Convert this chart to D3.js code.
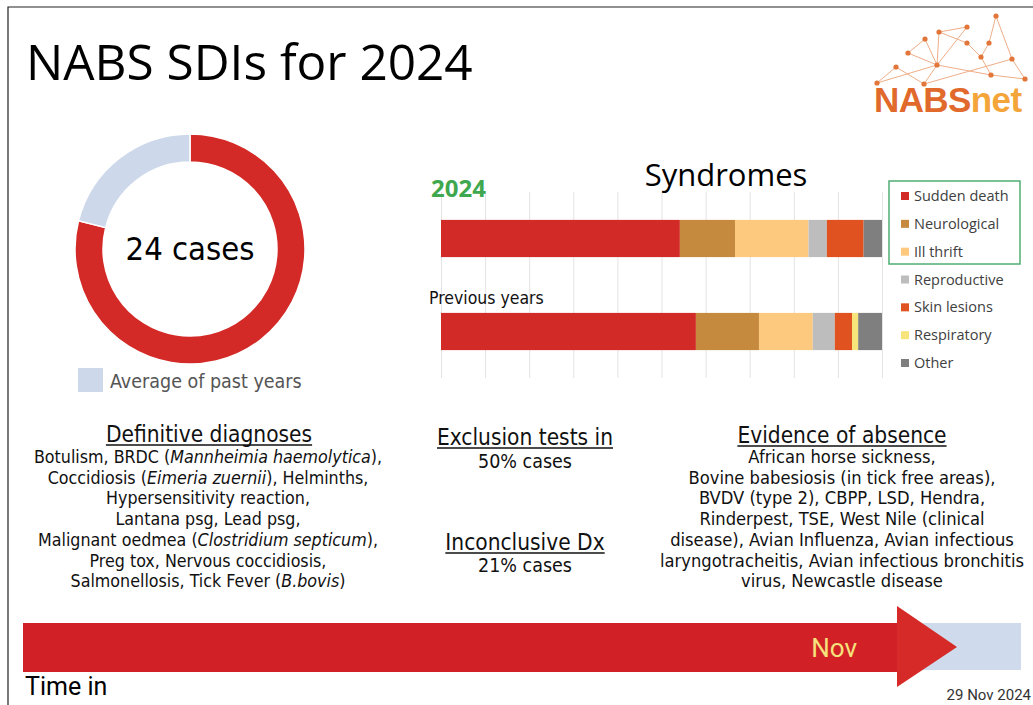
<!DOCTYPE html>
<html>
<head>
<meta charset="utf-8">
<script src="https://cdn.jsdelivr.net/npm/d3@7"></script>
<style>
  body { margin: 0; background: #fff; }
  svg { display: block; }
</style>
</head>
<body>
<svg id="board"></svg>
<script>
let w = 1033
let h = 705

// case count ring
let casesThisYear = 24
let avgPastYears = 30.4

// syndromes bars
let syndromes = ["Sudden death", "Neurological", "Ill thrift", "Reproductive", "Skin lesions", "Respiratory", "Other"]
let syndromeColors = ["#d22b27", "#c58a3d", "#fdc97f", "#bdbdbd", "#e0521f", "#f7e47b", "#7f7f7f"]
let counts2024 = [13, 3, 4, 1, 2, 0, 1]
let pctPrevious = [57.8, 14.3, 12.2, 5.0, 3.9, 1.4, 5.4]
let barLabels = ["2024", "Previous years"]
let gridTicks = d3.range(0, 101, 10)

// text panels
let definitive = [
  "Botulism, BRDC (*Mannheimia haemolytica*),",
  "Coccidiosis (*Eimeria zuernii*), Helminths,",
  "Hypersensitivity reaction,",
  "Lantana psg, Lead psg,",
  "Malignant oedmea (*Clostridium septicum*),",
  "Preg tox, Nervous coccidiosis,",
  "Salmonellosis, Tick Fever (*B.bovis*)"
]
let evidence = [
  "African horse sickness,",
  "Bovine babesiosis (in tick free areas),",
  "BVDV (type 2), CBPP, LSD, Hendra,",
  "Rinderpest, TSE, West Nile (clinical",
  "disease), Avian Influenza, Avian infectious",
  "laryngotracheitis, Avian infectious bronchitis",
  "virus, Newcastle disease"
]
let exclusionPct = 50
let inconclusivePct = 21

// timeline
let yearStart = new Date(2024, 0, 1)
let yearEnd = new Date(2025, 0, 1)
let reportDate = new Date(2024, 10, 29)

// logo network
let logoNodes = [[996,16],[967,27],[939,32],[925,39],[967,43],[989,43],[908,53],[981,57],[1012,59],[937,65],[896,67],[991,75],[877,83],[924,84],[1025,79]]
let logoLinks = [[12,10],[10,13],[12,9],[13,9],[9,6],[6,3],[3,9],[2,9],[2,1],[1,9],[2,4],[4,7],[7,11],[5,7],[0,5],[0,8],[8,14],[11,14],[9,11],[13,8]]

const segoe = "'Open Sans', 'Noto Sans', sans-serif"
const lucida = "'DejaVu Sans Condensed', 'DejaVu Sans', sans-serif"
const calibri = "'Liberation Sans Narrow', 'Roboto', sans-serif"

let svg = d3.select("#board")
  .attr("width", w)
  .attr("height", h)

svg.append("rect").attr("width", w).attr("height", h).attr("fill", "#fff")
svg.append("path")
  .attr("d", `M8,${h} V7 H${w}`)
  .attr("fill", "none")
  .attr("stroke", "#222")
  .attr("stroke-width", 1.2)

// title
svg.append("text")
  .attr("x", 26).attr("y", 80)
  .attr("font-family", segoe)
  .attr("font-size", 49.5)
  .attr("fill", "#000")
  .text("NABS SDIs for 2024")

// logo
let logo = svg.append("g")
logo.selectAll("line")
  .data(logoLinks)
  .join("line")
  .attr("x1", d => logoNodes[d[0]][0]).attr("y1", d => logoNodes[d[0]][1])
  .attr("x2", d => logoNodes[d[1]][0]).attr("y2", d => logoNodes[d[1]][1])
  .attr("stroke", "#efae88")
  .attr("stroke-width", 1)
logo.selectAll("circle")
  .data(logoNodes)
  .join("circle")
  .attr("cx", d => d[0]).attr("cy", d => d[1])
  .attr("r", 2.6)
  .attr("fill", "#e2763a")
let logoText = logo.append("text")
  .attr("x", 874).attr("y", 112)
  .attr("font-family", "'Liberation Sans', Arial, sans-serif")
  .attr("font-weight", "bold")
  .attr("font-size", 35)
  .attr("letter-spacing", -0.6)
logoText.append("tspan").attr("fill", "#e0692b").text("NABS")
logoText.append("tspan").attr("fill", "#f4a53a").text("net")

// ring of cases
let ring = svg.append("g").attr("transform", "translate(190,249)")
let pie = d3.pie().sort(null)
let arc = d3.arc().innerRadius(87).outerRadius(115)
ring.selectAll("path")
  .data(pie([casesThisYear, avgPastYears - casesThisYear]))
  .join("path")
  .attr("d", arc)
  .attr("fill", (d, i) => i === 0 ? "#d32a27" : "#cdd9ea")
  .attr("stroke", "#fff")
  .attr("stroke-width", 1.5)
ring.append("text")
  .attr("text-anchor", "middle")
  .attr("y", 11)
  .attr("font-family", lucida)
  .attr("font-size", 32.5)
  .attr("fill", "#000")
  .text(casesThisYear + " cases")

svg.append("rect")
  .attr("x", 78).attr("y", 368).attr("width", 25).attr("height", 24)
  .attr("fill", "#cdd9ea")
svg.append("text")
  .attr("x", 110).attr("y", 388)
  .attr("font-family", lucida)
  .attr("font-size", 19.5)
  .attr("fill", "#555")
  .text("Average of past years")

// syndromes chart
let x = d3.scaleLinear().domain([0, 1]).range([441, 882])
let y = d3.scaleBand().domain(barLabels).range([192, 378]).paddingInner(0.6).paddingOuter(0.3)

svg.append("g")
  .attr("transform", "translate(0,378)")
  .call(d3.axisBottom(x).tickValues(gridTicks.map(t => t / 100)).tickSize(-186).tickFormat(""))
  .call(g => g.select(".domain").remove())
  .call(g => g.selectAll(".tick line").attr("stroke", "#e3e3e3"))

let rows = [counts2024, pctPrevious].map((vals, r) => {
  let row = { label: barLabels[r] }
  syndromes.forEach((s, i) => row[s] = vals[i])
  return row
})
let series = d3.stack().keys(syndromes).offset(d3.stackOffsetExpand)(rows)

svg.append("g").selectAll("g")
  .data(series)
  .join("g")
  .attr("fill", (d, i) => syndromeColors[i])
  .selectAll("rect")
  .data(d => d)
  .join("rect")
  .attr("x", d => x(d[0]))
  .attr("width", d => x(d[1]) - x(d[0]))
  .attr("y", d => y(d.data.label))
  .attr("height", y.bandwidth())

svg.append("text")
  .attr("x", 726).attr("y", 186)
  .attr("text-anchor", "middle")
  .attr("font-family", segoe)
  .attr("font-size", 31)
  .attr("fill", "#000")
  .text("Syndromes")
svg.append("text")
  .attr("x", 431).attr("y", y(barLabels[0]) - 23)
  .attr("font-family", segoe)
  .attr("font-weight", "bold")
  .attr("font-size", 24)
  .attr("fill", "#3fa84e")
  .text(barLabels[0])
svg.append("text")
  .attr("x", 429).attr("y", y(barLabels[1]) - 9)
  .attr("font-family", lucida)
  .attr("font-size", 17.5)
  .attr("fill", "#111")
  .text(barLabels[1])

// legend
let legendY = d3.scalePoint().domain(syndromes).range([201, 368])
let legend = svg.append("g")
legend.append("rect")
  .attr("x", 889).attr("y", 181).attr("width", 131).attr("height", 83)
  .attr("fill", "none")
  .attr("stroke", "#4fae74")
  .attr("stroke-width", 1.5)
let items = legend.selectAll("g.item")
  .data(syndromes)
  .join("g")
  .attr("class", "item")
  .attr("transform", d => `translate(901,${legendY(d)})`)
items.append("rect")
  .attr("y", -9).attr("width", 8).attr("height", 8)
  .attr("fill", (d, i) => syndromeColors[i])
items.append("text")
  .attr("x", 13)
  .attr("font-family", segoe)
  .attr("font-size", 14.5)
  .attr("fill", "#404040")
  .text(d => d)

// text panels
function heading(cx, yy, label) {
  let t = svg.append("text")
    .attr("x", cx).attr("y", yy)
    .attr("text-anchor", "middle")
    .attr("font-family", lucida)
    .attr("font-size", 22.5)
    .attr("fill", "#111")
    .text(label)
  let len = t.node().getComputedTextLength()
  svg.append("line")
    .attr("x1", cx - len / 2).attr("x2", cx + len / 2)
    .attr("y1", yy + 3).attr("y2", yy + 3)
    .attr("stroke", "#111")
    .attr("stroke-width", 1.3)
}
function block(cx, y0, lines, size) {
  lines.forEach((line, i) => {
    let t = svg.append("text")
      .attr("x", cx).attr("y", y0 + i * 20.7)
      .attr("text-anchor", "middle")
      .attr("font-family", lucida)
      .attr("font-size", size)
      .attr("fill", "#111")
    line.split("*").forEach((part, k) => {
      t.append("tspan")
        .attr("font-style", k % 2 ? "italic" : "normal")
        .text(part)
    })
  })
}

heading(209, 442, "Definitive diagnoses")
block(208, 463, definitive, 17.7)

heading(525, 445, "Exclusion tests in")
block(525, 468, [exclusionPct + "% cases"], 19.5)
heading(525, 550, "Inconclusive Dx")
block(525, 572, [inconclusivePct + "% cases"], 19.5)

heading(842, 443, "Evidence of absence")
block(842, 463, evidence, 18.2)

// timeline arrow
let t = d3.scaleTime().domain([yearStart, yearEnd]).range([23, 1021])
let tx = t(reportDate)
svg.append("rect")
  .attr("x", t(yearStart)).attr("y", 623)
  .attr("width", t(yearEnd) - t(yearStart)).attr("height", 47)
  .attr("fill", "#cfdbec")
svg.append("rect")
  .attr("x", t(yearStart)).attr("y", 623)
  .attr("width", tx - 34 - t(yearStart)).attr("height", 49)
  .attr("fill", "#d12127")
svg.append("path")
  .attr("d", `M${tx - 34},606 L${tx + 26},647 L${tx - 34},687 Z`)
  .attr("fill", "#d52a27")
svg.append("text")
  .attr("x", tx - 74).attr("y", 657)
  .attr("text-anchor", "end")
  .attr("font-family", calibri)
  .attr("font-size", 26)
  .attr("fill", "#f6e27c")
  .text(d3.timeFormat("%b")(reportDate))
svg.append("text")
  .attr("x", 25).attr("y", 695)
  .attr("font-family", calibri)
  .attr("font-size", 25)
  .attr("fill", "#000")
  .text("Time in")
svg.append("text")
  .attr("x", 1031).attr("y", 700)
  .attr("text-anchor", "end")
  .attr("font-family", calibri)
  .attr("font-size", 15)
  .attr("fill", "#333")
  .text(d3.timeFormat("%-d %b %Y")(reportDate))
</script>
</body>
</html>
